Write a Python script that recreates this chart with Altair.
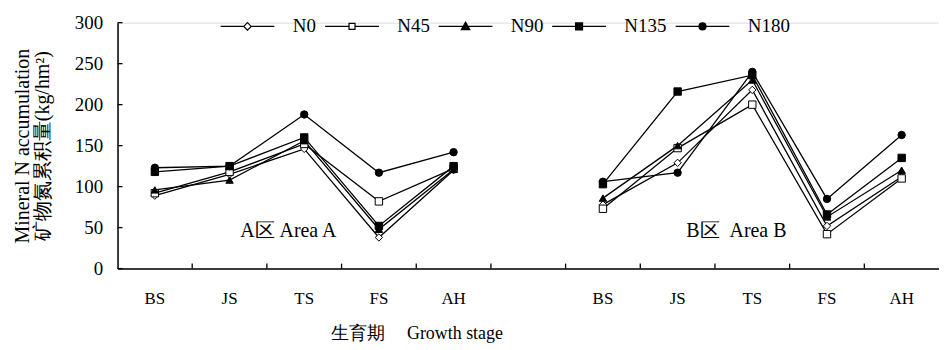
import altair as alt
import pandas as pd

# ---------------- data ----------------
stages = ["BS", "JS", "TS", "FS", "AH"]
series = ["N0", "N45", "N90", "N135", "N180"]

# Area A
a_N0 = [89, 115, 146, 38, 120]
a_N45 = [92, 118, 152, 82, 122]
a_N90 = [96, 108, 156, 48, 121]
a_N135 = [118, 125, 160, 52, 125]
a_N180 = [123, 125, 188, 117, 142]

# Area B
b_N0 = [78, 129, 218, 52, 112]
b_N45 = [73, 147, 200, 42, 110]
b_N90 = [86, 150, 230, 63, 120]
b_N135 = [103, 216, 236, 66, 135]
b_N180 = [106, 117, 240, 85, 163]

y_ticks = [0, 50, 100, 150, 200, 250, 300]
area_labels = ["A区 Area A", "B区\u00a0\u00a0Area B"]
area_label_stage = ["TS", "TS"]
area_label_value = [46, 46]

# ---------------- build tables ----------------
area_a = {"N0": a_N0, "N45": a_N45, "N90": a_N90, "N135": a_N135, "N180": a_N180}
area_b = {"N0": b_N0, "N45": b_N45, "N90": b_N90, "N135": b_N135, "N180": b_N180}

xkeys = ["A_" + s for s in stages] + ["gap"] + ["B_" + s for s in stages]

rows = []
for area, table in (("A", area_a), ("B", area_b)):
    for s in series:
        for st, v in zip(stages, table[s]):
            rows.append({"key": f"{area}_{st}", "series": s, "grp": f"{s}_{area}", "value": v})
df = pd.DataFrame(rows)

xtick_df = pd.DataFrame({"key": xkeys[1:]})
ytick_df = pd.DataFrame({"value": y_ticks})
ann_df = pd.DataFrame({
    "key": [f"{a}_{st}" for a, st in zip(["A", "B"], area_label_stage)],
    "value": area_label_value,
    "label": area_labels,
})

FONT = "Liberation Serif"

xscale = alt.Scale(type="band", domain=xkeys, paddingInner=0, paddingOuter=0)
yscale = alt.Scale(domain=[0, 300], nice=False, zero=True)

xaxis = alt.Axis(
    title="生育期\u00a0\u00a0\u00a0\u00a0\u00a0Growth stage",
    labelExpr="indexof(datum.label, '_') > 0 ? split(datum.label, '_')[1] : ''",
    labelAngle=0, ticks=False, grid=False,
    labelPadding=22, titlePadding=18,
    titleX=300, titleAlign="center", titleAnchor="start",
    domainColor="black", domainWidth=1.5,
    labelFont=FONT, labelFontSize=17, labelColor="black",
    titleFont=FONT, titleFontSize=18, titleFontWeight="normal", titleColor="black",
)
yaxis = alt.Axis(
    title=["Mineral N accumulation", "矿物氮累积量(kg/hm²)"],
    values=y_ticks, ticks=False, grid=False,
    labelPadding=15, titlePadding=22,
    domainColor="black", domainWidth=1.5,
    labelFont=FONT, labelFontSize=19, labelColor="black",
    titleFont=FONT, titleFontSize=20, titleFontWeight="normal", titleColor="black",
    titleLineHeight=20,
)

X = alt.X("key:N", scale=xscale, axis=xaxis, sort=xkeys)
Y = alt.Y("value:Q", scale=yscale, axis=yaxis)

marker_shapes = ["diamond", "square", "triangle-up", "square", "circle"]
marker_fills = ["white", "white", "black", "black", "black"]
marker_strokes = ["black", "black", "black", "black", "black"]

legend_paths = [
    "M-5.4,0H-0.75M0.75,0H5.4M0,-0.75L0.75,0L0,0.75L-0.75,0Z",
    "M-5.4,0H-0.6M0.6,0H5.4M-0.6,-0.6H0.6V0.6H-0.6Z",
    "M-5.4,0H5.4M0,-0.85L0.85,0.65H-0.85Z",
    "M-5.4,0H5.4M-0.7,-0.7H0.7V0.7H-0.7Z",
    "M-5.4,0H5.4M-0.7,0A0.7,0.7 0 1,0 0.7,0A0.7,0.7 0 1,0 -0.7,0Z",
]

lines = alt.Chart(df).mark_line(color="black", strokeWidth=1.3).encode(
    x=X, y=Y, detail="grp:N"
)

points = alt.Chart(df).mark_point(filled=True, size=55, stroke="black", strokeWidth=1, opacity=1).encode(
    x=X, y=Y,
    shape=alt.Shape("series:N", scale=alt.Scale(domain=series, range=marker_shapes), legend=None),
    fill=alt.Fill("series:N", scale=alt.Scale(domain=series, range=marker_fills), legend=None),
)

leg = alt.Legend(
    orient="none", direction="horizontal", legendX=121, legendY=-6, title=None,
    labelFont=FONT, labelFontSize=19, labelFontWeight="normal", labelColor="black",
    symbolSize=100, symbolStrokeWidth=1.2, symbolStrokeColor="black",
    labelOffset=36, columnPadding=6,
)
legend_layer = alt.Chart(df).transform_filter("false").mark_point(
    filled=True, strokeWidth=1.2, opacity=1
).encode(
    x=X, y=Y,
    shape=alt.Shape("series:N", scale=alt.Scale(domain=series, range=legend_paths), legend=leg),
    fill=alt.Fill("series:N", scale=alt.Scale(domain=series, range=marker_fills), legend=leg),
    stroke=alt.Stroke("series:N", scale=alt.Scale(domain=series, range=marker_strokes), legend=leg),
)

xticks = alt.Chart(xtick_df).mark_rule(color="black", strokeWidth=1.3, y2Offset=-5).encode(
    x=alt.X("key:N", scale=xscale, axis=xaxis, sort=xkeys, bandPosition=0),
    y=alt.datum(0),
    y2=alt.datum(0),
)

yticks = alt.Chart(ytick_df).mark_rule(color="black", strokeWidth=1.3).encode(
    y=Y, x=alt.value(0), x2=alt.value(5)
)

ann = alt.Chart(ann_df).mark_text(font=FONT, fontSize=20, color="black", align="center", dx=-16).encode(
    x=X, y=Y, text="label:N"
)

chart = alt.layer(lines, points, legend_layer, xticks, yticks, ann).resolve_scale(
    shape="independent", fill="independent", stroke="independent"
).properties(
    width=825, height=247, padding={"left": 4, "top": 5, "right": 0, "bottom": 0}
).configure_view(stroke=None).configure_legend(
    labelFont=FONT, labelFontSize=19, labelColor="black"
).configure(background="white", font=FONT)

chart.save("out.html", embed_options={"renderer": "svg", "actions": False})
